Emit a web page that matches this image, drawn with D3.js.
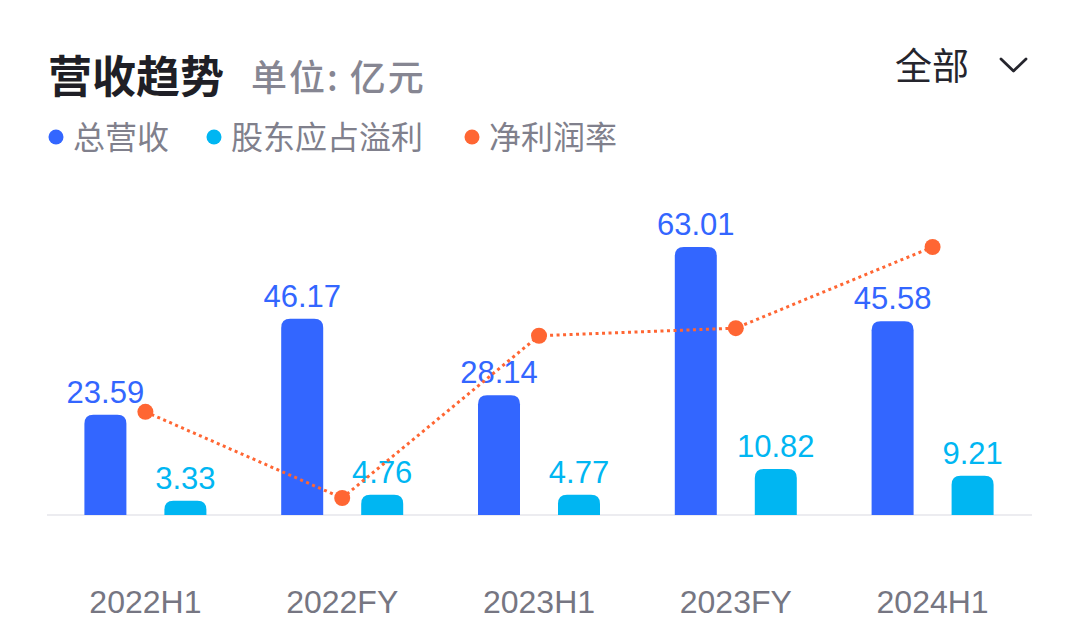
<!DOCTYPE html>
<html>
<head>
<meta charset="utf-8">
<script src="https://cdn.jsdelivr.net/npm/d3@7"></script>
<style>
  html, body { margin: 0; padding: 0; background: #fff; }
  svg { display: block; }
</style>
</head>
<body>
<svg id="chart" width="1080" height="634"></svg>
<script>
// ---- data ----
const categories = ["2022H1", "2022FY", "2023H1", "2023FY", "2024H1"];
const revenue = [23.59, 46.17, 28.14, 63.01, 45.58];       // 总营收 (亿元)
const netProfit = [3.33, 4.76, 4.77, 10.82, 9.21];          // 股东应占溢利 (亿元)
const netMargin = [13.7, 10.3, 16.7, 17.0, 20.2];           // 净利润率 (%)
const seriesNames = ["总营收", "股东应占溢利", "净利润率"];
const titleText = "营收趋势";
const unitText = "单位: 亿元";
const filterText = "全部";

// ---- styling ----
const colors = { rev: "#3366FF", np: "#00B6F2", margin: "#FF6633" };
const cjk = "'Noto Sans CJK SC', 'Noto Sans', sans-serif";
const num = "'Liberation Sans', Arial, 'Noto Sans CJK SC', sans-serif";

const svg = d3.select("#chart");

// header
svg.append("text").attr("x", 48).attr("y", 93)
  .attr("font-family", cjk).attr("font-weight", 700).attr("font-size", 44)
  .attr("fill", "#1F1F26").text(titleText);
svg.append("text").attr("x", 251).attr("y", 91)
  .attr("font-family", cjk).attr("font-weight", 500).attr("font-size", 36)
  .attr("letter-spacing", 2)
  .attr("fill", "#868692").text(unitText);
svg.append("text").attr("x", 895).attr("y", 80)
  .attr("font-family", cjk).attr("font-size", 37)
  .attr("fill", "#25252D").text(filterText);
svg.append("path").attr("d", "M1001,59 L1013.5,71 L1026,59")
  .attr("fill", "none").attr("stroke", "#25252D").attr("stroke-width", 2.8)
  .attr("stroke-linecap", "round").attr("stroke-linejoin", "round");

// legend
const legendItems = [
  { name: seriesNames[0], color: colors.rev, x: 56 },
  { name: seriesNames[1], color: colors.np, x: 214 },
  { name: seriesNames[2], color: colors.margin, x: 472 }
];
const lg = svg.append("g").selectAll("g").data(legendItems).join("g");
lg.append("circle").attr("cx", d => d.x).attr("cy", 137).attr("r", 7.5).attr("fill", d => d.color);
lg.append("text").attr("x", d => d.x + 17).attr("y", 149)
  .attr("font-family", cjk).attr("font-size", 32).attr("fill", "#80808C")
  .text(d => d.name);

// scales
const x0 = d3.scaleBand().domain(categories).range([47, 1031]).paddingInner(0).paddingOuter(0);
const keys = ["rev", "np"];
const x1 = d3.scaleBand().domain(keys).range([-61, 61]).paddingInner(0.475).paddingOuter(0);
const y = d3.scaleLinear().domain([0, 63.01]).range([515, 247]);
const yM = d3.scaleLinear().domain([10.3, 20.2]).range([498, 247]);

// baseline
svg.append("line").attr("x1", 47).attr("x2", 1032).attr("y1", 515).attr("y2", 515)
  .attr("stroke", "#ECECF0").attr("stroke-width", 2);

// x axis labels
const xAxis = d3.axisBottom(x0).tickSize(0).tickPadding(0);
const ax = svg.append("g").attr("transform", "translate(0,580)").call(xAxis);
ax.select(".domain").remove();
ax.selectAll("text").attr("font-family", num).attr("font-size", 32)
  .attr("fill", "#767682").attr("dy", null).attr("y", 33);

// bars
function topRounded(x, yTop, w, h, r) {
  r = Math.min(r, h, w / 2);
  const b = yTop + h;
  return `M${x},${b} L${x},${yTop + r} Q${x},${yTop} ${x + r},${yTop} L${x + w - r},${yTop} Q${x + w},${yTop} ${x + w},${yTop + r} L${x + w},${b} Z`;
}
const rows = categories.map((c, i) => ({ cat: c, rev: revenue[i], np: netProfit[i] }));
const groups = svg.append("g").selectAll("g").data(rows).join("g")
  .attr("transform", d => `translate(${x0(d.cat) + x0.bandwidth() / 2},0)`);
const barData = d => keys.map(k => ({ key: k, value: d[k] }));
groups.selectAll("path").data(barData).join("path")
  .attr("d", d => topRounded(x1(d.key), y(d.value), x1.bandwidth(), y(0) - y(d.value), 9))
  .attr("fill", d => colors[d.key]);
groups.selectAll("text").data(barData).join("text")
  .attr("x", d => x1(d.key) + x1.bandwidth() / 2)
  .attr("y", d => y(d.value) - 12)
  .attr("text-anchor", "middle")
  .attr("font-family", num).attr("font-size", 31)
  .attr("fill", d => colors[d.key])
  .text(d => d.value.toFixed(2));

// net margin line
const mData = categories.map((c, i) => ({ cat: c, v: netMargin[i] }));
const line = d3.line().x(d => x0(d.cat) + x0.bandwidth() / 2).y(d => yM(d.v));
svg.append("path").datum(mData).attr("d", line)
  .attr("fill", "none").attr("stroke", colors.margin).attr("stroke-width", 3)
  .attr("stroke-dasharray", "3 3.5");
svg.append("g").selectAll("circle").data(mData).join("circle")
  .attr("cx", d => x0(d.cat) + x0.bandwidth() / 2).attr("cy", d => yM(d.v))
  .attr("r", 8).attr("fill", colors.margin);
</script>
</body>
</html>
